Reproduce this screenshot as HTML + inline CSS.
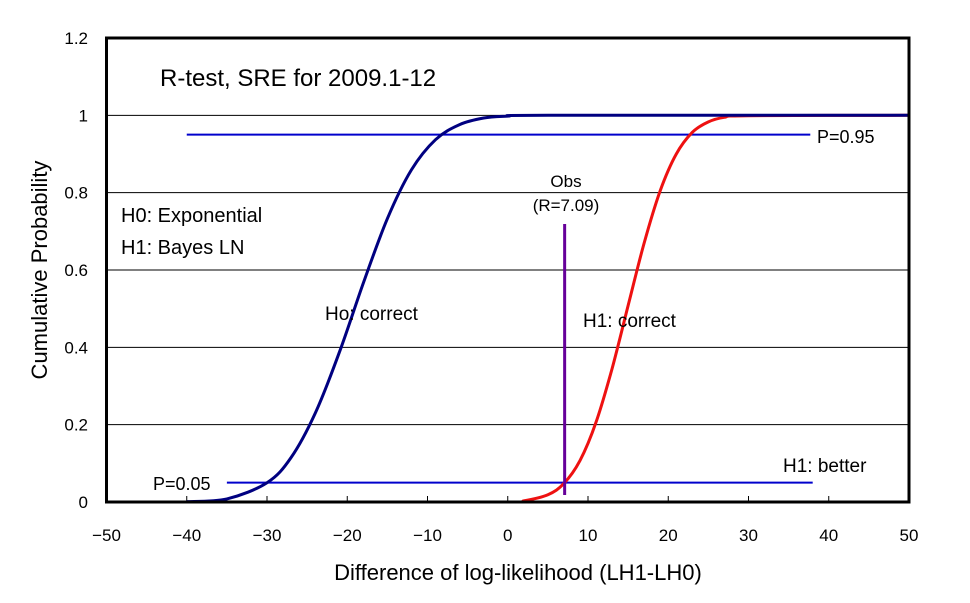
<!DOCTYPE html>
<html><head><meta charset="utf-8"><style>
body{margin:0;background:#fff;}
svg{display:block;font-family:"Liberation Sans","Noto Sans CJK JP",sans-serif;}
</style></head><body>
<svg id="c" width="970" height="603"></svg>
<script>
const xTicks=[-50,-40,-30,-20,-10,0,10,20,30,40,50];
const yTicks=[0,0.2,0.4,0.6,0.8,1,1.2];
const yTickLabels=["0","0.2","0.4","0.6","0.8","1","1.2"];
const h0X=[-40,-35,-30,-27,-24,-21,-18,-15,-12,-9,-6,-3,0,5,50];
const h0P=[0.001,0.008,0.05,0.115,0.229,0.386,0.566,0.733,0.859,0.937,0.976,0.993,0.998,1,1];
const h1X=[-30,0,2,5,7,9,11,13,15,17,19,21,23,25,27,30,50];
const h1P=[0,0,0.003,0.019,0.048,0.107,0.206,0.345,0.508,0.670,0.805,0.90,0.956,0.983,0.995,0.999,1];
const obsR=7.09;
const pHigh=0.95, pLow=0.05;
const L=106.5,R=909,T=38,B=502;
const sx=v=>L+(v+50)/100*(R-L);
const sy=v=>B-v/1.2*(B-T);
const svg=document.getElementById('c');
const NS='http://www.w3.org/2000/svg';
function el(tag,attrs,parent){const e=document.createElementNS(NS,tag);for(const k in attrs)e.setAttribute(k,attrs[k]);(parent||svg).appendChild(e);return e;}
function txt(s,attrs){const e=el('text',attrs);e.textContent=s;return e;}
yTicks.forEach((v,i)=>{
 if(v>0&&v<1.2){const g=el('line',{x1:L,x2:R,y1:sy(v),y2:sy(v),stroke:'#000','stroke-width':1});
 
 }
 const t=txt(yTickLabels[i],{x:88,y:sy(v)+6,'text-anchor':'end','font-size':17,fill:'#000'});
 
 
});
xTicks.forEach(v=>{
 const k=el('line',{x1:sx(v),x2:sx(v),y1:B,y2:B-6,stroke:'#000','stroke-width':1});
 
 
 const t=txt(String(v).replace('-','−'),{x:sx(v),y:541,'text-anchor':'middle','font-size':17,fill:'#000'});
 
 
});
const p95=el('line',{x1:sx(-40),x2:sx(37.7),y1:sy(pHigh),y2:sy(pHigh),stroke:'#0000cc','stroke-width':2});


const p05=el('line',{x1:sx(-35),x2:sx(38),y1:sy(pLow),y2:sy(pLow),stroke:'#0000cc','stroke-width':2});


function smooth(xs,ps){
 const P=xs.map((x,i)=>[sx(x),sy(ps[i])]);
 let d='M'+P[0][0].toFixed(1)+','+P[0][1].toFixed(1);
 for(let i=0;i<P.length-1;i++){
  const p0=P[Math.max(0,i-1)],p1=P[i],p2=P[i+1],p3=P[Math.min(P.length-1,i+2)];
  const c1x=p1[0]+(p2[0]-p0[0])/6,c1y=p1[1]+(p2[1]-p0[1])/6;
  const c2x=p2[0]-(p3[0]-p1[0])/6,c2y=p2[1]-(p3[1]-p1[1])/6;
  d+=' C'+c1x.toFixed(1)+','+Math.min(B,c1y).toFixed(1)+' '+c2x.toFixed(1)+','+Math.min(B,c2y).toFixed(1)+' '+p2[0].toFixed(1)+','+p2[1].toFixed(1);
 }
 return d;
}
const c1=el('path',{d:smooth(h1X,h1P),fill:'none',stroke:'#ee1111','stroke-width':3,'stroke-linejoin':'round'});


const c0=el('path',{d:smooth(h0X,h0P),fill:'none',stroke:'#000080','stroke-width':3,'stroke-linejoin':'round'});


const ob=el('line',{x1:sx(obsR),x2:sx(obsR),y1:224,y2:495,stroke:'#660099','stroke-width':3});


const fr=el('rect',{x:L,y:T,width:R-L,height:B-T,fill:'none',stroke:'#000','stroke-width':3});


const ann=[["R-test, SRE for 2009.1-12",160,86,24,'start','chart-title'],
["H0: Exponential",121,222,20,'start','h0-label'],["H1: Bayes LN",121,254,20,'start','h1-label'],
["Ho: correct",325,320,19,'start','h0-correct-label'],["H1: correct",583,327,19,'start','h1-correct-label'],
["Obs",566,187,17,'middle','obs-label'],["(R=7.09)",566,211,17,'middle','obs-value-label'],
["P=0.95",817,143,18,'start','p095-label'],["P=0.05",153,490,18,'start','p005-label'],
["H1: better",783,472,19,'start','h1-better-label'],
["Difference of log-likelihood (LH1-LH0)",518,580,22,'middle','x-axis-title']];
ann.forEach(a=>{const t=txt(a[0],{x:a[1],y:a[2],'font-size':a[3],'text-anchor':a[4],fill:'#000'});
 
 });
const yt=txt("Cumulative Probability",{x:0,y:0,'font-size':22,'text-anchor':'middle',transform:'translate(47,270) rotate(-90)',fill:'#000'});


</script>
</body></html>
